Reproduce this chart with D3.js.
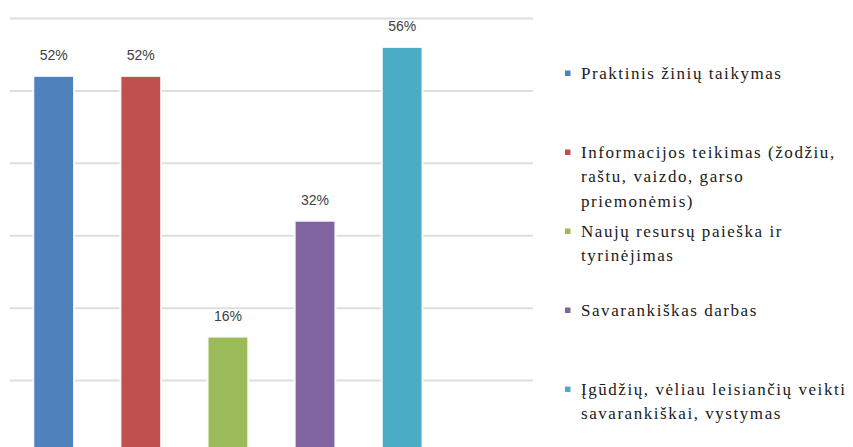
<!DOCTYPE html>
<html><head><meta charset="utf-8">
<script src="https://cdn.jsdelivr.net/npm/d3@7"></script>
<style>
html,body{margin:0;padding:0;background:#fff;}
svg{display:block;}
.leg{font-family:"Liberation Serif","Tinos","DejaVu Serif","Noto Serif","Times New Roman",serif;}
.lbl{font-family:"Liberation Sans",Arial,sans-serif;}
</style>
</head><body>
<svg id="chart" width="853" height="447"></svg>
<script>
const categories = ["Praktinis žinių taikymas","Informacijos teikimas (žodžiu, raštu, vaizdo, garso priemonėmis)","Naujų resursų paieška ir tyrinėjimas","Savarankiškas darbas","Įgūdžių, vėliau leisiančių veikti savarankiškai, vystymas"];
const values = [0.52, 0.52, 0.16, 0.32, 0.56];
const legendLines = [
  ["Praktinis žinių taikymas"],
  ["Informacijos teikimas (žodžiu,","raštu, vaizdo, garso","priemonėmis)"],
  ["Naujų resursų paieška ir","tyrinėjimas"],
  ["Savarankiškas darbas"],
  ["Įgūdžių, vėliau leisiančių veikti","savarankiškai, vystymas"]
];
const gridTicks = [0.1, 0.2, 0.3, 0.4, 0.5, 0.6];
const colors = ["#4f81bd","#c0504d","#9bbb59","#8064a2","#4bacc6"];

const svg = d3.select("#chart");
const y = d3.scaleLinear().domain([0, 0.6]).range([452.5, 18]);
const x = d3.scaleBand().domain(categories).range([33.3, 422.5]).paddingInner(0.533).paddingOuter(0);
const color = d3.scaleOrdinal().domain(categories).range(colors);

// gridlines
svg.append("g")
  .attr("transform","translate(10,0)")
  .call(d3.axisLeft(y).tickValues(gridTicks).tickSize(-(533-10)).tickFormat(""))
  .call(g => g.select(".domain").remove())
  .call(g => g.selectAll("line").attr("stroke","#dedede").attr("stroke-width",2));

// bars
svg.append("g").selectAll("rect").data(values).join("rect")
  .attr("x",(d,i)=>x(categories[i]))
  .attr("y",d=>y(d))
  .attr("width",x.bandwidth())
  .attr("height",d=>y(0)-y(d))
  .attr("fill",(d,i)=>color(categories[i]))
  .attr("stroke","#ffffff").attr("stroke-width",2).attr("stroke-opacity",0.9);

// labels
svg.append("g").selectAll("text").data(values).join("text")
  .attr("class","lbl")
  .attr("x",(d,i)=>x(categories[i])+x.bandwidth()/2)
  .attr("y",d=>y(d)-16)
  .attr("text-anchor","middle")
  .attr("font-size",14)
  .attr("fill","#404040")
  .text(d=>d3.format(".0%")(d));

// legend
const lineH = 24.4, slot = 79;
let ly = 73;
const lg = svg.append("g");
legendLines.forEach((lines,i)=>{
  const g = lg.append("g").attr("transform",`translate(0,${ly})`);
  g.append("rect").attr("x",565).attr("y",-2.5).attr("width",5.5).attr("height",5.5).attr("fill",color(categories[i]));
  g.selectAll("text").data(lines).join("text")
    .attr("class","leg")
    .attr("x",581).attr("y",(d,j)=>j*lineH).attr("dy","0.35em")
    .attr("font-size",17).attr("letter-spacing",1.55).attr("fill","#1a1a1a")
    .text(d=>d);
  ly += Math.max(slot, lines.length*lineH);
});
</script>
</body></html>
